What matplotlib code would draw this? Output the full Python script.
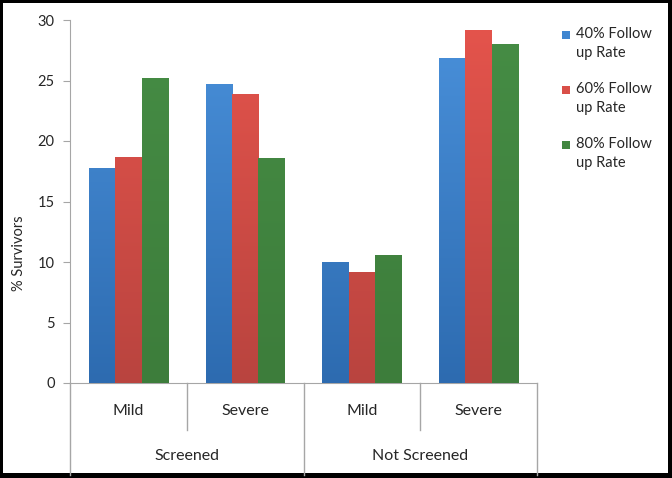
import matplotlib
matplotlib.use("Agg")
import matplotlib.pyplot as plt
import matplotlib.colors as mcolors
from matplotlib.patches import Rectangle
import numpy as np

plt.rcParams['font.family'] = ['Lato', 'DejaVu Sans']

# data
severity = ["Mild", "Severe", "Mild", "Severe"]
groups = ["Screened", "Not Screened"]
series = ["40% Follow\nup Rate", "60% Follow\nup Rate", "80% Follow\nup Rate"]
rate40 = [17.8, 24.7, 10.0, 26.9]
rate60 = [18.7, 23.9, 9.2, 29.2]
rate80 = [25.2, 18.6, 10.6, 28.0]

# top / bottom colours of the excel style gradient
tops = ["#4a91db", "#e5544c", "#468d45"]
bottoms = ["#2d6bb0", "#b9443f", "#3d7d3b"]
legend_cols = ["#3f86d0", "#d94f48", "#428740"]

fig = plt.figure(figsize=(6.72, 4.78), dpi=100, facecolor="black")
fig.add_artist(Rectangle((3 / 672, 5 / 478), 665 / 672, 470 / 478,
                         transform=fig.transFigure, facecolor="white",
                         edgecolor="none", zorder=-1))

ax = fig.add_axes([70 / 672, 95 / 478, 467 / 672, 363 / 478])
ax.set_facecolor("none")
ax.set_xlim(-0.5, 3.5)
ax.set_ylim(0, 30)

width = 0.225
x = np.arange(len(severity))
for i, vals in enumerate([rate40, rate60, rate80]):
    bars = ax.bar(x + (i - 1) * width, vals, width, color=bottoms[i], zorder=2)
    cmap = mcolors.LinearSegmentedColormap.from_list("g%d" % i, [bottoms[i], tops[i]])
    grad = np.linspace(0, 1, 256).reshape(-1, 1)
    for b in bars:
        im = ax.imshow(grad, cmap=cmap, origin="lower", aspect="auto",
                       extent=[b.get_x(), b.get_x() + b.get_width(), 0, 30],
                       zorder=3)
        im.set_clip_path(b)
ax.set_xlim(-0.5, 3.5)
ax.set_ylim(0, 30)

axis_col = "#a6a6a6"
for s in ["top", "right"]:
    ax.spines[s].set_visible(False)
ax.spines["left"].set_color(axis_col)
ax.spines["bottom"].set_color(axis_col)
ax.set_yticks(range(0, 31, 5))
ax.tick_params(axis="y", length=5, color=axis_col, labelsize=10.5,
               labelcolor="#262626", pad=6)
ax.set_xticks([])

# category axis: dividers and two levels of labels
tr = ax.get_xaxis_transform()
for xd in [0.5, 2.5]:
    ax.plot([xd, xd], [0, -47 / 363], transform=tr, color=axis_col,
            lw=1, clip_on=False)
for xd in [-0.5, 1.5, 3.5]:
    ax.plot([xd, xd], [0, -92 / 363], transform=tr, color=axis_col,
            lw=1, clip_on=False)
for xi, lab in zip(x, severity):
    ax.text(xi, -28 / 363, lab, transform=tr, ha="center", va="center",
            fontsize=11.5, color="#262626")
for gi, lab in enumerate(groups):
    ax.text(gi * 2 + 0.5, -73 / 363, lab, transform=tr, ha="center",
            va="center", fontsize=11.5, color="#262626")

fig.text(19 / 672, 1 - 253 / 478, "% Survivors", rotation=90, ha="center",
         va="center", fontsize=10.5, color="#262626")

# legend
for i, lab in enumerate(series):
    yc = 35 + i * 55
    fig.add_artist(Rectangle((562 / 672, 1 - (yc + 4) / 478), 8 / 672, 8 / 478,
                             transform=fig.transFigure, facecolor=legend_cols[i],
                             edgecolor="none"))
    fig.text(576 / 672, 1 - (yc - 8) / 478, lab, ha="left", va="top",
             fontsize=10.5, color="#262626", linespacing=1.45)

fig.savefig("out.png", dpi=100, facecolor="black")
